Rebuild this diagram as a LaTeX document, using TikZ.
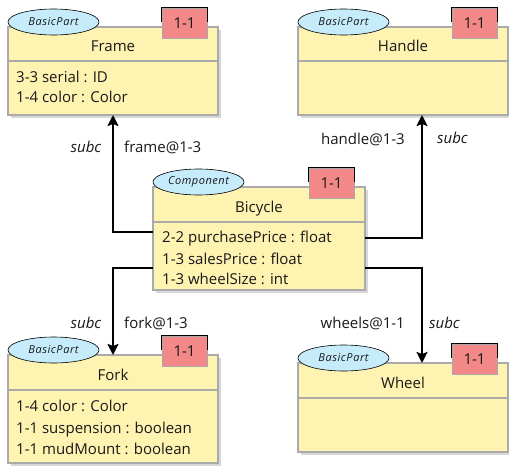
\documentclass[tikz,border=0pt]{standalone}
\usepackage{fontspec}
\setmainfont{Open Sans}
\usetikzlibrary{arrows.meta,shapes.geometric}

\definecolor{boxfill}{RGB}{255,243,178}
\definecolor{boxline}{RGB}{170,170,170}
\definecolor{shadowc}{RGB}{215,215,215}
\definecolor{stereofill}{RGB}{198,235,251}
\definecolor{badgefill}{RGB}{242,136,136}
\definecolor{inkc}{RGB}{25,25,25}

% one class box: name, left, top, right, bottom, divider, stereotype, title
\newcommand\umlbox[8]{%
  \pgfmathsetmacro\bw{#4-#2}\pgfmathsetmacro\bh{#5-#3}%
  \fill[shadowc] (#2+3,#3+3) rectangle (#4+3,#5+3);
  \node[classbox, minimum width=\bw pt, minimum height=\bh pt, anchor=north west] (#1) at (#2,#3) {};
  \draw[boxline, line width=1.2pt] (#2,#6) -- (#4,#6);
  \node[titletext, anchor=base] (#1-title) at ({(#2+#4)/2}, {(#3+#6)/2+7.5}) {#8};
  \node[stereo] (#1-stereo) at (#2+45.5,#3-5) {#7};
  \node[badge] (#1-badge) at (#4-33.5,#3-4) {1-1};
  \draw[black, line width=0.8pt] ([yshift=-14pt]#1-badge.north west) -- (#1-badge.north west)
        -- (#1-badge.north east) -- ([yshift=-14pt]#1-badge.north east);
}

\begin{document}
\begin{tikzpicture}[x=1pt,y=-1pt,
  font=\fontsize{15}{18}\selectfont,
  classbox/.style={draw=boxline, fill=boxfill, line width=1.5pt, inner sep=0pt, outer sep=0pt},
  titletext/.style={text=inkc, inner sep=0pt},
  attr/.style={text=inkc, inner sep=0pt, anchor=base west},
  stereo/.style={ellipse, draw=black, line width=0.6pt, fill=stereofill, minimum width=91pt,
    minimum height=26pt, inner sep=0pt,
    font=\fontsize{11}{13}\selectfont\itshape\addfontfeatures{LetterSpace=5}, text=inkc},
  badge/.style={draw=boxline, line width=0.8pt, fill=badgefill, minimum width=45pt,
    minimum height=30pt, inner sep=0pt, text=inkc},
  conn/.style={draw=black, line width=2.6pt, -{Stealth[length=11pt,width=11pt,inset=2pt]}},
  lbl/.style={text=inkc, inner sep=0pt},
  sublbl/.style={text=inkc, inner sep=0pt, font=\fontsize{15}{18}\selectfont\itshape}]

\useasboundingbox[fill=white] (0,0) rectangle (509,466);

% classes
\umlbox{frame}{8}{27}{218}{115}{61}{BasicPart}{Frame}
\node[attr] (frame-a1) at (16,82.5) {3-3 serial : ID};
\node[attr] (frame-a2) at (16,102.5) {1-4 color : Color};

\umlbox{handle}{298}{27}{508}{115}{61}{BasicPart}{Handle}

\umlbox{bicycle}{153}{187}{365}{290}{222}{Component}{Bicycle}
\node[attr] (bicycle-a1) at (162,242.5) {2-2 purchasePrice : float};
\node[attr] (bicycle-a2) at (162,264) {1-3 salesPrice : float};
\node[attr] (bicycle-a3) at (162,284.5) {1-3 wheelSize : int};

\umlbox{fork}{8}{355}{218}{463}{390}{BasicPart}{Fork}
\node[attr] (fork-a1) at (16,411.5) {1-4 color : Color};
\node[attr] (fork-a2) at (16,433) {1-1 suspension : boolean};
\node[attr] (fork-a3) at (16,454) {1-1 mudMount : boolean};

\umlbox{wheel}{298}{363}{508}{452}{398}{BasicPart}{Wheel}

% part-of connectors
\draw[conn] ([yshift=6.5pt]bicycle.west) -| (frame.south);
\draw[conn] ([yshift=-29.5pt]bicycle.west) -| (fork.north);
\draw[conn] ([yshift=0.5pt]bicycle.east) -| ([xshift=19pt]handle.south);
\draw[conn] ([yshift=-29.5pt]bicycle.east) -| ([xshift=19pt]wheel.north);

% connector labels
\node[sublbl] (l-frame-s) at (86,147) {subc};
\node[lbl, anchor=west] (l-frame) at (124,147) {frame@1-3};
\node[sublbl] (l-fork-s) at (86,323) {subc};
\node[lbl, anchor=west] (l-fork) at (124,323) {fork@1-3};
\node[lbl, anchor=east] (l-handle) at (405,139) {handle@1-3};
\node[sublbl, anchor=west] (l-handle-s) at (437,138) {subc};
\node[lbl, anchor=east] (l-wheel) at (405,323) {wheels@1-1};
\node[sublbl, anchor=west] (l-wheel-s) at (429,323) {subc};
\end{tikzpicture}
\end{document}
